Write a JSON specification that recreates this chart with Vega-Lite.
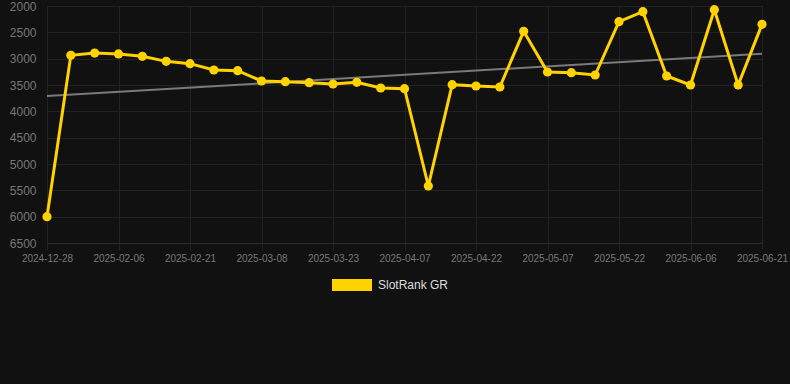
{
  "$schema": "https://vega.github.io/schema/vega-lite/v6.json",
  "width": 752,
  "height": 237,
  "autosize": {"type": "none"},
  "padding": {"left": 38, "top": 6, "right": 0, "bottom": 141},
  "background": "#111111",
  "config": {
    "view": {"stroke": null},
    "font": "Liberation Sans"
  },
  "data": {
    "values": [
      {"date": "2024-12-28", "rank": 6000},
      {"date": "2025-01-27", "rank": 2937},
      {"date": "2025-02-01", "rank": 2893},
      {"date": "2025-02-06", "rank": 2911},
      {"date": "2025-02-11", "rank": 2956},
      {"date": "2025-02-16", "rank": 3051},
      {"date": "2025-02-21", "rank": 3095},
      {"date": "2025-02-26", "rank": 3215},
      {"date": "2025-03-03", "rank": 3228},
      {"date": "2025-03-08", "rank": 3424},
      {"date": "2025-03-13", "rank": 3437},
      {"date": "2025-03-18", "rank": 3456},
      {"date": "2025-03-23", "rank": 3481},
      {"date": "2025-03-28", "rank": 3449},
      {"date": "2025-04-02", "rank": 3557},
      {"date": "2025-04-07", "rank": 3570},
      {"date": "2025-04-12", "rank": 5418},
      {"date": "2025-04-17", "rank": 3494},
      {"date": "2025-04-22", "rank": 3519},
      {"date": "2025-04-27", "rank": 3538},
      {"date": "2025-05-02", "rank": 2481},
      {"date": "2025-05-07", "rank": 3253},
      {"date": "2025-05-12", "rank": 3266},
      {"date": "2025-05-17", "rank": 3310},
      {"date": "2025-05-22", "rank": 2297},
      {"date": "2025-05-27", "rank": 2108},
      {"date": "2025-06-01", "rank": 3329},
      {"date": "2025-06-06", "rank": 3500},
      {"date": "2025-06-11", "rank": 2070},
      {"date": "2025-06-16", "rank": 3500},
      {"date": "2025-06-21", "rank": 2348}
    ]
  },
  "encoding": {
    "x": {
      "field": "date",
      "type": "ordinal",
      "scale": {"type": "point", "range": [9, 724], "padding": 0},
      "axis": {
        "title": null,
        "values": ["2024-12-28", "2025-02-06", "2025-02-21", "2025-03-08", "2025-03-23", "2025-04-07", "2025-04-22", "2025-05-07", "2025-05-22", "2025-06-06", "2025-06-21"],
        "labelAngle": 0,
        "labelFontSize": 10,
        "labelColor": "#777777",
        "labelPadding": 3,
        "tickSize": 7,
        "tickColor": "#222222",
        "grid": true,
        "gridColor": "#222222",
        "domainColor": "#2c2c2c"
      }
    },
    "y": {
      "field": "rank",
      "type": "quantitative",
      "scale": {"domain": [2000, 6500], "reverse": true, "nice": false, "zero": false},
      "axis": {
        "title": null,
        "format": "d",
        "values": [2000, 2500, 3000, 3500, 4000, 4500, 5000, 5500, 6000, 6500],
        "labelFontSize": 12,
        "labelColor": "#777777",
        "labelPadding": 2,
        "ticks": false,
        "domain": false,
        "grid": true,
        "gridColor": "#222222"
      }
    }
  },
  "layer": [
    {
      "data": {
        "values": [
          {"date": "2024-12-28", "rank": 3709},
          {"date": "2025-06-21", "rank": 2905}
        ]
      },
      "mark": {"type": "line", "color": "#7a7a7a", "strokeWidth": 2},
      "encoding": {}
    },
    {
      "mark": {"type": "line", "color": "#FFD200", "strokeWidth": 3},
      "encoding": {}
    },
    {
      "mark": {"type": "point", "filled": true, "opacity": 1, "size": 85},
      "encoding": {
        "color": {
          "datum": "SlotRank GR",
          "scale": {"range": ["#FFD200"]},
          "legend": {
            "title": null,
            "orient": "none",
            "legendX": 294,
            "legendY": 259,
            "padding": 0,
            "symbolType": "M-1,-0.3H1V0.3H-1Z",
            "symbolSize": 1600,
            "symbolStrokeWidth": 0,
            "symbolOpacity": 1,
            "labelFontSize": 12,
            "labelColor": "#dddddd",
            "labelOffset": 6
          }
        }
      }
    }
  ]
}
